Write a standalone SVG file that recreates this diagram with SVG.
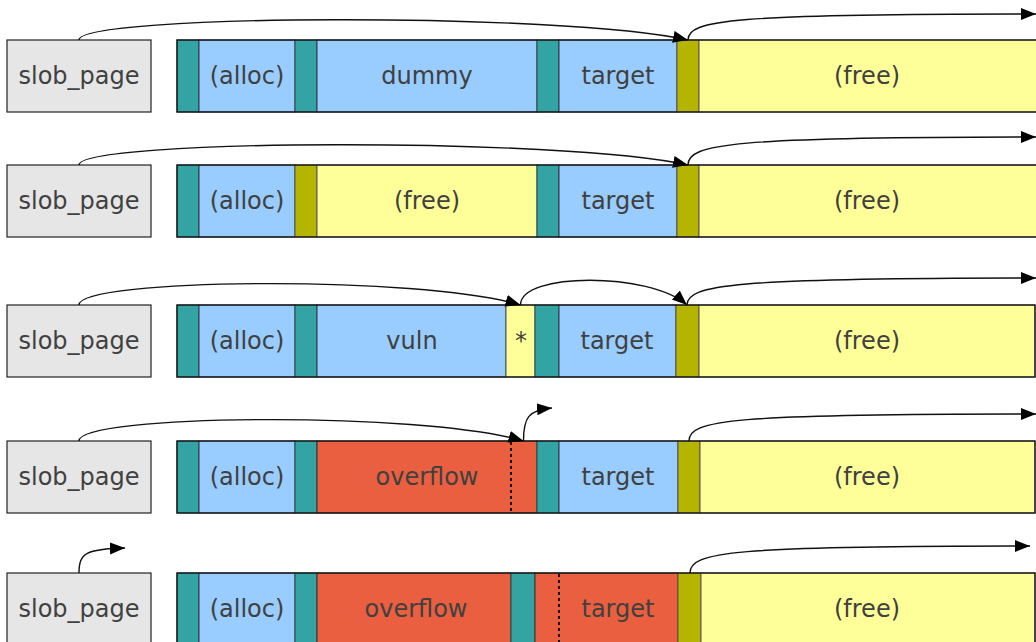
<svg xmlns="http://www.w3.org/2000/svg" width="1036" height="642" viewBox="0 0 1036 642">
<defs>
<style>
.pg{fill:#e6e6e6;stroke:#222;stroke-width:1.2}
.hd{fill:#33a3a3;stroke:#2a4a4a;stroke-width:1}
.fh{fill:#b5b500;stroke:#555;stroke-width:1}
.al{fill:#99ccff;stroke:#334;stroke-width:1}
.fr{fill:#ffff99;stroke:#555;stroke-width:1}
.ov{fill:#ea5f3f;stroke:#333;stroke-width:1}
.box{fill:none;stroke:#111;stroke-width:1.3}
.dot{stroke:#111;stroke-width:2;stroke-dasharray:3,3;fill:none}
text{font-family:"DejaVu Sans","Liberation Sans",sans-serif;font-size:24px;fill:#404040;text-anchor:middle}
.c path{fill:none;stroke:#111;stroke-width:1.4;marker-end:url(#ah)}
</style>
<marker id="ah" markerUnits="userSpaceOnUse" markerWidth="17" markerHeight="14" refX="15" refY="6" orient="auto">
<path d="M0,0 L15,6 L0,12 z" fill="#000"/>
</marker>
</defs>

<!-- Row 1 -->
<g id="page1"><rect class="pg" x="7" y="40" width="144" height="72"/><text x="79" y="84">slob_page</text></g>
<g id="row1">
<rect class="hd" x="177" y="40" width="22" height="72"/>
<rect class="al" x="199" y="40" width="96" height="72"/>
<rect class="hd" x="295" y="40" width="22" height="72"/>
<rect class="al" x="317" y="40" width="220" height="72"/>
<rect class="hd" x="537" y="40" width="22" height="72"/>
<rect class="al" x="559" y="40" width="118" height="72"/>
<rect class="fh" x="677" y="40" width="22" height="72"/>
<rect class="fr" x="699" y="40" width="345" height="72"/>
<rect class="box" x="177" y="40" width="867" height="72"/>
<text x="247" y="84">(alloc)</text><text x="427" y="84">dummy</text><text x="618" y="84">target</text><text x="867" y="84">(free)</text>
</g>

<!-- Row 2 -->
<g id="page2"><rect class="pg" x="7" y="165" width="144" height="72"/><text x="79" y="209">slob_page</text></g>
<g id="row2">
<rect class="hd" x="177" y="165" width="22" height="72"/>
<rect class="al" x="199" y="165" width="96" height="72"/>
<rect class="fh" x="295" y="165" width="22" height="72"/>
<rect class="fr" x="317" y="165" width="220" height="72"/>
<rect class="hd" x="537" y="165" width="22" height="72"/>
<rect class="al" x="559" y="165" width="118" height="72"/>
<rect class="fh" x="677" y="165" width="22" height="72"/>
<rect class="fr" x="699" y="165" width="345" height="72"/>
<rect class="box" x="177" y="165" width="867" height="72"/>
<text x="247" y="209">(alloc)</text><text x="427" y="209">(free)</text><text x="618" y="209">target</text><text x="867" y="209">(free)</text>
</g>

<!-- Row 3 -->
<g id="page3"><rect class="pg" x="7" y="305" width="144" height="72"/><text x="79" y="349">slob_page</text></g>
<g id="row3">
<rect class="hd" x="177" y="305" width="22" height="72"/>
<rect class="al" x="199" y="305" width="96" height="72"/>
<rect class="hd" x="295" y="305" width="22" height="72"/>
<rect class="al" x="317" y="305" width="189" height="72"/>
<rect class="fr" x="506" y="305" width="29" height="72"/>
<rect class="hd" x="535" y="305" width="24" height="72"/>
<rect class="al" x="559" y="305" width="117" height="72"/>
<rect class="fh" x="676" y="305" width="23" height="72"/>
<rect class="fr" x="699" y="305" width="336" height="72"/>
<rect class="box" x="177" y="305" width="858" height="72"/>
<text x="247" y="349">(alloc)</text><text x="412" y="349">vuln</text><text x="521" y="349">*</text><text x="617" y="349">target</text><text x="867" y="349">(free)</text>
</g>

<!-- Row 4 -->
<g id="page4"><rect class="pg" x="7" y="441" width="144" height="72"/><text x="79" y="485">slob_page</text></g>
<g id="row4">
<rect class="hd" x="177" y="441" width="22" height="72"/>
<rect class="al" x="199" y="441" width="96" height="72"/>
<rect class="hd" x="295" y="441" width="22" height="72"/>
<rect class="ov" x="317" y="441" width="220" height="72"/>
<rect class="hd" x="537" y="441" width="22" height="72"/>
<rect class="al" x="559" y="441" width="119" height="72"/>
<rect class="fh" x="678" y="441" width="22" height="72"/>
<rect class="fr" x="700" y="441" width="335" height="72"/>
<rect class="box" x="177" y="441" width="858" height="72"/>
<line class="dot" x1="511" y1="442" x2="511" y2="513"/>
<text x="247" y="485">(alloc)</text><text x="427" y="485">overflow</text><text x="618" y="485">target</text><text x="867" y="485">(free)</text>
</g>

<!-- Row 5 -->
<g id="page5"><rect class="pg" x="7" y="573" width="144" height="72"/><text x="79" y="617">slob_page</text></g>
<g id="row5">
<rect class="hd" x="177" y="573" width="22" height="72"/>
<rect class="al" x="199" y="573" width="96" height="72"/>
<rect class="hd" x="295" y="573" width="22" height="72"/>
<rect class="ov" x="317" y="573" width="194" height="72"/>
<rect class="hd" x="511" y="573" width="24" height="72"/>
<rect class="ov" x="535" y="573" width="143" height="72"/>
<rect class="fh" x="678" y="573" width="23" height="72"/>
<rect class="fr" x="701" y="573" width="334" height="72"/>
<rect class="box" x="177" y="573" width="858" height="72"/>
<line class="dot" x1="559" y1="574" x2="559" y2="642"/>
<text x="247" y="617">(alloc)</text><text x="416" y="617">overflow</text><text x="618" y="617">target</text><text x="867" y="617">(free)</text>
</g>

<g id="connectors" class="c">
<path d="M79,40 C79,14 560,12 688,40"/>
<path d="M688,40 C688,20 730,14 1036,14"/>
<path d="M79,165 C79,139 560,137 688,165"/>
<path d="M688,165 C688,144 730,137 1036,137"/>
<path d="M79,305 C79,278 420,275 520.5,305"/>
<path d="M520.5,305 C520.5,272 650,272 687,305"/>
<path d="M687,305 C687,285 730,278 1036,278"/>
<path d="M79,441 C79,414 420,411 523.5,441"/>
<path d="M523.5,441 C523.5,418 528,410 552,408"/>
<path d="M689,441 C689,420 730,414 1036,414"/>
<path d="M79,573 C79,553 86,549 125,548"/>
<path d="M690,573 C690,552 730,546 1030,546"/>
</g>
</svg>
